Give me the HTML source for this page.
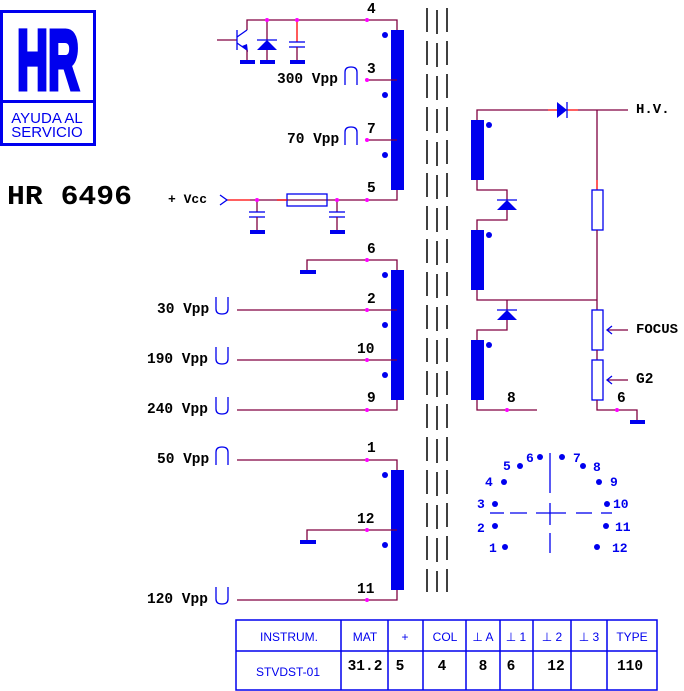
<!DOCTYPE html>
<html><head><meta charset="utf-8"><style>
body{margin:0;background:#fff;width:684px;height:691px;overflow:hidden}
svg{display:block}
.m{font-family:"Liberation Mono",monospace;font-weight:bold;font-size:13px;fill:#000}
.v{font-size:14.5px}
.b{font-family:"Liberation Sans",sans-serif;fill:#0000ee}
.w{stroke:#800040;stroke-width:1.3;fill:none}
.r{stroke:#f00;stroke-width:1.3;fill:none}
.bl{fill:#0000ee}
.bs{stroke:#0000ee;stroke-width:1.3;fill:none}
.pk{fill:#ff00ff}
</style></head><body>
<svg width="684" height="691" viewBox="0 0 684 691" xmlns="http://www.w3.org/2000/svg">
<!-- logo -->
<rect x="1.5" y="11.5" width="93" height="133" fill="none" stroke="#0000ee" stroke-width="3"/>
<line x1="1" y1="101.5" x2="95" y2="101.5" stroke="#0000ee" stroke-width="3"/>
<text x="48" y="89" text-anchor="middle" class="b" style="font-size:84px;font-weight:bold;stroke:#0000ee;stroke-width:5" textLength="62" lengthAdjust="spacingAndGlyphs">HR</text>
<text x="47" y="123" text-anchor="middle" class="b" style="font-size:15px">AYUDA AL</text>
<text x="47" y="137" text-anchor="middle" class="b" style="font-size:15px">SERVICIO</text>
<text x="7" y="204" class="m" style="font-size:27px" textLength="125" lengthAdjust="spacingAndGlyphs">HR 6496</text>

<!-- dashed core lines -->
<g stroke="#000" stroke-width="1.5" stroke-dasharray="24,9">
<line x1="427" y1="8" x2="427" y2="592"/><line x1="437" y1="10" x2="437" y2="592"/><line x1="447" y1="8" x2="447" y2="592"/>
</g>

<!-- top winding -->
<rect x="391" y="30" width="13" height="160" class="bl"/>
<circle cx="385" cy="35" r="3" class="bl"/><circle cx="385" cy="95" r="3" class="bl"/><circle cx="385" cy="155" r="3" class="bl"/>
<polyline class="w" points="247,30 247,20 397,20 397,30"/>
<line class="w" x1="367" y1="80" x2="397" y2="80"/>
<line class="w" x1="367" y1="140" x2="397" y2="140"/>
<polyline class="w" points="250,200 397,200 397,190"/>
<line class="r" x1="227" y1="200" x2="250" y2="200"/>
<!-- transistor -->
<line class="w" x1="217" y1="40" x2="237" y2="40"/>
<line class="bs" x1="237" y1="30" x2="237" y2="50"/>
<line class="bs" x1="237" y1="37" x2="247" y2="30"/>
<line class="bs" x1="237" y1="43" x2="247" y2="50"/>
<polygon points="248,52 242,46 247,44" class="bl"/>
<line class="w" x1="247" y1="50" x2="247" y2="60"/>
<rect x="240" y="60" width="15" height="4" class="bl"/>
<!-- diode -->
<line class="w" x1="267" y1="20" x2="267" y2="40"/>
<polygon points="257,50 277,50 267,40" class="bl"/><line class="bs" x1="257" y1="40" x2="277" y2="40"/>
<line class="w" x1="267" y1="50" x2="267" y2="60"/>
<rect x="260" y="60" width="15" height="4" class="bl"/>
<!-- cap -->
<line class="r" x1="297" y1="20" x2="297" y2="42"/>
<line class="bs" x1="289" y1="42" x2="305" y2="42"/><line class="bs" x1="289" y1="47" x2="305" y2="47"/>
<line class="w" x1="297" y1="47" x2="297" y2="60"/>
<rect x="290" y="60" width="15" height="4" class="bl"/>
<circle cx="267" cy="20" r="2" class="pk"/><circle cx="297" cy="20" r="2" class="pk"/><circle cx="367" cy="20" r="2" class="pk"/>
<circle cx="367" cy="80" r="2" class="pk"/><circle cx="367" cy="140" r="2" class="pk"/><circle cx="367" cy="200" r="2" class="pk"/>
<text x="367" y="13" class="m v">4</text><text x="367" y="73" class="m v">3</text><text x="367" y="133" class="m v">7</text><text x="367" y="192" class="m v">5</text>
<text x="277" y="83" class="m v">300 Vpp</text><text x="287" y="143" class="m v">70 Vpp</text>
<path class="bs" d="M345,85 V72 Q345,67 351,67 Q357,67 357,72 V85"/>
<path class="bs" d="M345,145 V132 Q345,127 351,127 Q357,127 357,132 V145"/>
<!-- vcc -->
<text x="168" y="203" class="m" style="font-size:13px">+ Vcc</text>
<polyline class="bs" points="220,195 227,200 220,205"/>
<rect x="287" y="194" width="40" height="12" fill="none" stroke="#0000ee" stroke-width="1.3"/>
<line class="r" x1="277" y1="200" x2="287" y2="200"/>
<line class="w" x1="257" y1="200" x2="257" y2="212"/><line class="bs" x1="249" y1="212" x2="265" y2="212"/><line class="bs" x1="249" y1="217" x2="265" y2="217"/><line class="w" x1="257" y1="217" x2="257" y2="230"/><rect x="250" y="230" width="15" height="4" class="bl"/>
<line class="w" x1="337" y1="200" x2="337" y2="212"/><line class="bs" x1="329" y1="212" x2="345" y2="212"/><line class="bs" x1="329" y1="217" x2="345" y2="217"/><line class="w" x1="337" y1="217" x2="337" y2="230"/><rect x="330" y="230" width="15" height="4" class="bl"/>
<circle cx="257" cy="200" r="2" class="pk"/><circle cx="337" cy="200" r="2" class="pk"/>

<!-- middle winding -->
<rect x="391" y="270" width="13" height="130" class="bl"/>
<circle cx="385" cy="275" r="3" class="bl"/><circle cx="385" cy="325" r="3" class="bl"/><circle cx="385" cy="375" r="3" class="bl"/>
<polyline class="w" points="307,270 307,260 397,260 397,270"/><rect x="300" y="270" width="16" height="4" class="bl"/>
<line class="w" x1="237" y1="310" x2="397" y2="310"/>
<line class="w" x1="237" y1="360" x2="397" y2="360"/>
<polyline class="w" points="237,410 397,410 397,400"/>
<circle cx="367" cy="260" r="2" class="pk"/><circle cx="367" cy="310" r="2" class="pk"/><circle cx="367" cy="360" r="2" class="pk"/><circle cx="367" cy="410" r="2" class="pk"/>
<text x="367" y="253" class="m v">6</text><text x="367" y="303" class="m v">2</text><text x="357" y="353" class="m v">10</text><text x="367" y="402" class="m v">9</text>
<text x="157" y="313" class="m v">30 Vpp</text><text x="147" y="363" class="m v">190 Vpp</text><text x="147" y="413" class="m v">240 Vpp</text>
<path class="bs" d="M216,297 V309 Q216,314 222,314 Q228,314 228,309 V297"/>
<path class="bs" d="M216,347 V359 Q216,364 222,364 Q228,364 228,359 V347"/>
<path class="bs" d="M216,397 V409 Q216,414 222,414 Q228,414 228,409 V397"/>

<!-- bottom winding -->
<rect x="391" y="470" width="13" height="120" class="bl"/>
<circle cx="385" cy="475" r="3" class="bl"/><circle cx="385" cy="545" r="3" class="bl"/>
<polyline class="w" points="237,460 397,460 397,470"/>
<polyline class="w" points="307,540 307,530 397,530"/><rect x="300" y="540" width="16" height="4" class="bl"/>
<polyline class="w" points="237,600 397,600 397,590"/>
<circle cx="367" cy="460" r="2" class="pk"/><circle cx="367" cy="530" r="2" class="pk"/><circle cx="367" cy="600" r="2" class="pk"/>
<text x="367" y="452" class="m v">1</text><text x="357" y="523" class="m v">12</text><text x="357" y="593" class="m v">11</text>
<text x="157" y="463" class="m v">50 Vpp</text><text x="147" y="603" class="m v">120 Vpp</text>
<path class="bs" d="M216,465 V452 Q216,447 222,447 Q228,447 228,452 V465"/>
<path class="bs" d="M216,587 V599 Q216,604 222,604 Q228,604 228,599 V587"/>

<!-- right side HV -->
<rect x="471" y="120" width="13" height="60" class="bl"/><rect x="471" y="230" width="13" height="60" class="bl"/><rect x="471" y="340" width="13" height="60" class="bl"/>
<circle cx="489" cy="125" r="3" class="bl"/><circle cx="489" cy="235" r="3" class="bl"/><circle cx="489" cy="345" r="3" class="bl"/>
<polyline class="w" points="477,120 477,110 548,110"/><line class="r" x1="548" y1="110" x2="578" y2="110"/>
<polygon points="557,102 557,118 567,110" class="bl"/><line class="bs" x1="567" y1="102" x2="567" y2="118"/>
<line class="w" x1="578" y1="110" x2="628" y2="110"/>
<text x="636" y="113" class="m" style="font-size:14px">H.V.</text>
<line class="w" x1="597" y1="110" x2="597" y2="180"/><line class="r" x1="597" y1="180" x2="597" y2="190"/>
<rect x="592" y="190" width="11" height="40" fill="none" stroke="#0000ee" stroke-width="1.3"/>
<line class="w" x1="597" y1="230" x2="597" y2="310"/>
<polyline class="w" points="477,180 477,190 507,190 507,200"/>
<polygon points="497,210 517,210 507,200" class="bl"/><line class="bs" x1="497" y1="200" x2="517" y2="200"/>
<polyline class="w" points="507,210 507,220 477,220 477,230"/>
<polyline class="w" points="477,290 477,300 597,300"/>
<line class="w" x1="507" y1="300" x2="507" y2="310"/>
<polygon points="497,320 517,320 507,310" class="bl"/><line class="bs" x1="497" y1="310" x2="517" y2="310"/>
<polyline class="w" points="507,320 507,330 477,330 477,340"/>
<polyline class="w" points="477,400 477,410 537,410"/>
<circle cx="507" cy="410" r="2" class="pk"/><text x="507" y="402" class="m v">8</text>
<rect x="592" y="310" width="11" height="40" fill="none" stroke="#0000ee" stroke-width="1.3"/>
<line class="w" x1="597" y1="350" x2="597" y2="360"/>
<rect x="592" y="360" width="11" height="40" fill="none" stroke="#0000ee" stroke-width="1.3"/>
<polyline class="w" points="597,400 597,410 637,410 637,420"/><rect x="630" y="420" width="15" height="4" class="bl"/>
<circle cx="617" cy="410" r="2" class="pk"/><text x="617" y="402" class="m v">6</text>
<line class="w" x1="608" y1="330" x2="628" y2="330"/><polyline class="bs" points="612,326 607,330 612,334"/>
<line class="w" x1="608" y1="380" x2="628" y2="380"/><polyline class="bs" points="612,376 607,380 612,384"/>
<text x="636" y="333" class="m" style="font-size:14px">FOCUS</text>
<text x="636" y="383" class="m v">G2</text>

<!-- socket -->
<g class="bl">
<circle cx="505" cy="547" r="3"/><circle cx="495" cy="526" r="3"/><circle cx="495" cy="504" r="3"/><circle cx="504" cy="482" r="3"/><circle cx="520" cy="466" r="3"/><circle cx="540" cy="457" r="3"/>
<circle cx="562" cy="457" r="3"/><circle cx="583" cy="466" r="3"/><circle cx="599" cy="482" r="3"/><circle cx="607" cy="504" r="3"/><circle cx="606" cy="526" r="3"/><circle cx="597" cy="547" r="3"/>
</g>
<g class="b" style="font-family:'Liberation Mono',monospace;font-weight:bold;font-size:13px">
<text x="489" y="552">1</text><text x="477" y="532">2</text><text x="477" y="508">3</text><text x="485" y="486">4</text><text x="503" y="470">5</text><text x="526" y="462">6</text>
<text x="573" y="462">7</text><text x="593" y="471">8</text><text x="610" y="486">9</text><text x="613" y="508">10</text><text x="615" y="531">11</text><text x="612" y="552">12</text>
</g>
<g class="bs">
<line x1="550" y1="453" x2="550" y2="493"/><line x1="550" y1="503" x2="550" y2="525"/><line x1="550" y1="533" x2="550" y2="553"/>
<line x1="490" y1="513" x2="504" y2="513"/><line x1="510" y1="513" x2="527" y2="513"/><line x1="536" y1="513" x2="566" y2="513"/><line x1="576" y1="513" x2="592" y2="513"/><line x1="601" y1="513" x2="612" y2="513"/>
</g>

<!-- table -->
<g stroke="#0000ee" stroke-width="1.5" fill="none">
<rect x="236" y="620" width="421" height="70"/>
<line x1="236" y1="651" x2="657" y2="651"/>
<line x1="341" y1="620" x2="341" y2="690"/><line x1="388" y1="620" x2="388" y2="690"/><line x1="423" y1="620" x2="423" y2="690"/>
<line x1="466" y1="620" x2="466" y2="690"/><line x1="500" y1="620" x2="500" y2="690"/><line x1="533" y1="620" x2="533" y2="690"/>
<line x1="571" y1="620" x2="571" y2="690"/><line x1="607" y1="620" x2="607" y2="690"/>
</g>
<g class="b" style="font-size:12px" text-anchor="middle">
<text x="289" y="641">INSTRUM.</text><text x="365" y="641">MAT</text><text x="405" y="641">+</text><text x="445" y="641">COL</text>
<text x="483" y="641">⊥ A</text><text x="516" y="641">⊥ 1</text><text x="552" y="641">⊥ 2</text><text x="589" y="641">⊥ 3</text><text x="632" y="641">TYPE</text>
<text x="288" y="676">STVDST-01</text>
</g>
<g class="m v" text-anchor="middle">
<text x="365" y="670">31.2</text><text x="400" y="670">5</text><text x="442" y="670">4</text><text x="483" y="670">8</text><text x="511" y="670">6</text><text x="556" y="670">12</text><text x="630" y="670">110</text>
</g>
</svg>
</body></html>
